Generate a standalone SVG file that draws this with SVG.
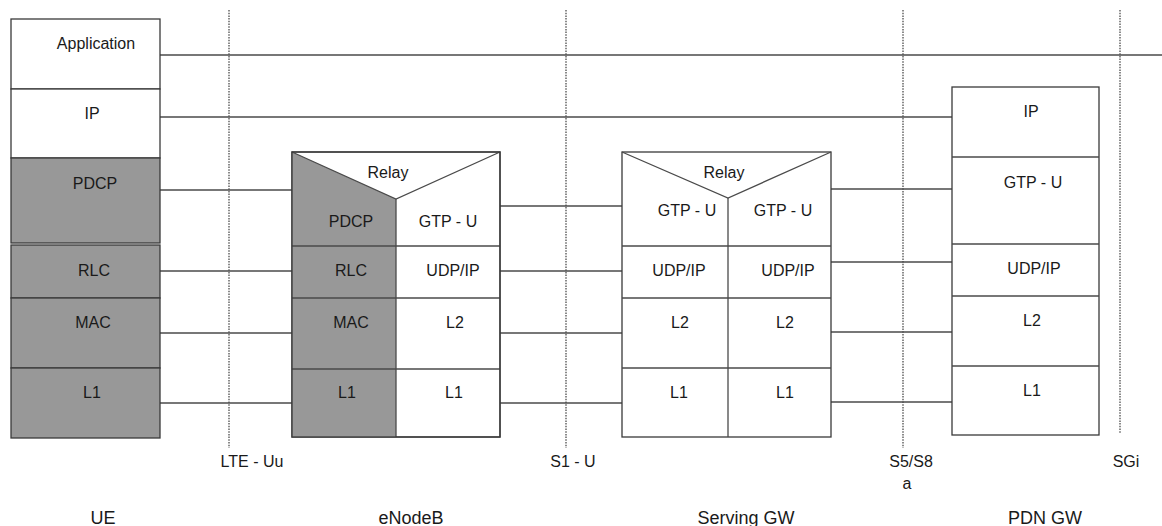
<svg xmlns="http://www.w3.org/2000/svg" width="1162" height="526" viewBox="0 0 1162 526">
<style>
.cell{fill:#ffffff;stroke:#3a3a3a;stroke-width:1.3}
.g{fill:#989898}
.ln{stroke:#4a4a4a;stroke-width:1.3;fill:none}
.ifc{stroke:#8a8a8a;stroke-width:2;stroke-dasharray:1.5 1.2;fill:none}
text{font-family:"Liberation Sans",Arial,sans-serif;font-size:16px;fill:#1a1a1a;text-anchor:middle}
.big{font-size:18px}
</style>
<rect width="1162" height="526" fill="#ffffff"/>
<g id="interfaces">
<line class="ifc" x1="229" y1="10" x2="229" y2="448"/>
<line class="ifc" x1="566" y1="10" x2="566" y2="448"/>
<line class="ifc" x1="903" y1="10" x2="903" y2="448"/>
<line class="ifc" x1="1120" y1="10" x2="1120" y2="433"/>
<text x="252" y="467">LTE - Uu</text>
<text x="573" y="467">S1 - U</text>
<text x="911" y="467">S5/S8</text>
<text x="907" y="489">a</text>
<text x="1126" y="467">SGi</text>
</g>
<g id="connectors">
<line class="ln" x1="160" y1="55" x2="1162" y2="55"/>
<line class="ln" x1="160" y1="117" x2="952" y2="117"/>
<line class="ln" x1="160" y1="190" x2="292" y2="190"/>
<line class="ln" x1="160" y1="271" x2="292" y2="271"/>
<line class="ln" x1="160" y1="333" x2="292" y2="333"/>
<line class="ln" x1="160" y1="403" x2="292" y2="403"/>
<line class="ln" x1="500" y1="206" x2="622" y2="206"/>
<line class="ln" x1="500" y1="271" x2="622" y2="271"/>
<line class="ln" x1="500" y1="333" x2="622" y2="333"/>
<line class="ln" x1="500" y1="403" x2="622" y2="403"/>
<line class="ln" x1="831" y1="189" x2="952" y2="189"/>
<line class="ln" x1="831" y1="262" x2="952" y2="262"/>
<line class="ln" x1="831" y1="332" x2="952" y2="332"/>
<line class="ln" x1="831" y1="402" x2="952" y2="402"/>
</g>
<g id="ue">
<rect class="cell" x="11" y="19" width="149" height="70"/>
<rect class="cell" x="11" y="89" width="149" height="69"/>
<rect class="cell g" x="11" y="158" width="149" height="85"/>
<rect class="cell g" x="11" y="245" width="149" height="53"/>
<rect class="cell g" x="11" y="298" width="149" height="70"/>
<rect class="cell g" x="11" y="368" width="149" height="70"/>
<text x="96" y="49">Application</text>
<text x="92" y="119">IP</text>
<text x="95" y="189">PDCP</text>
<text x="94" y="276">RLC</text>
<text x="93" y="328">MAC</text>
<text x="92" y="398">L1</text>
<text class="big" x="103" y="524">UE</text>
</g>
<g id="enodeb">
<rect class="cell" x="292" y="152" width="208" height="285"/>
<polygon class="g" points="292,152 396,199 396,437 292,437"/>
<polyline class="ln" points="292,152 396,199 500,152"/>
<line class="ln" x1="396" y1="199" x2="396" y2="437"/>
<line class="ln" x1="292" y1="246" x2="500" y2="246"/>
<line class="ln" x1="292" y1="298" x2="500" y2="298"/>
<line class="ln" x1="292" y1="369" x2="500" y2="369"/>
<rect x="292" y="152" width="208" height="285" fill="none" stroke="#3a3a3a" stroke-width="1.3"/>
<text x="388" y="178">Relay</text>
<text x="351" y="227">PDCP</text>
<text x="448" y="227">GTP - U</text>
<text x="351" y="276">RLC</text>
<text x="453" y="276">UDP/IP</text>
<text x="351" y="328">MAC</text>
<text x="455" y="328">L2</text>
<text x="347" y="398">L1</text>
<text x="454" y="398">L1</text>
<text class="big" x="411" y="524">eNodeB</text>
</g>
<g id="serving-gw">
<rect class="cell" x="622" y="152" width="209" height="285"/>
<polyline class="ln" points="622,152 728,198 831,152"/>
<line class="ln" x1="728" y1="198" x2="728" y2="437"/>
<line class="ln" x1="622" y1="246" x2="831" y2="246"/>
<line class="ln" x1="622" y1="298" x2="831" y2="298"/>
<line class="ln" x1="622" y1="368" x2="831" y2="368"/>
<text x="724" y="178">Relay</text>
<text x="687" y="216">GTP - U</text>
<text x="783" y="216">GTP - U</text>
<text x="679" y="276">UDP/IP</text>
<text x="788" y="276">UDP/IP</text>
<text x="680" y="328">L2</text>
<text x="785" y="328">L2</text>
<text x="679" y="398">L1</text>
<text x="785" y="398">L1</text>
<text class="big" x="746" y="524">Serving GW</text>
</g>
<g id="pdn-gw">
<rect class="cell" x="952" y="87" width="147" height="348"/>
<line class="ln" x1="952" y1="157" x2="1099" y2="157"/>
<line class="ln" x1="952" y1="244" x2="1099" y2="244"/>
<line class="ln" x1="952" y1="296" x2="1099" y2="296"/>
<line class="ln" x1="952" y1="366" x2="1099" y2="366"/>
<text x="1031" y="117">IP</text>
<text x="1033" y="188">GTP - U</text>
<text x="1034" y="274">UDP/IP</text>
<text x="1032" y="326">L2</text>
<text x="1032" y="396">L1</text>
<text class="big" x="1045" y="524">PDN GW</text>
</g>
</svg>
